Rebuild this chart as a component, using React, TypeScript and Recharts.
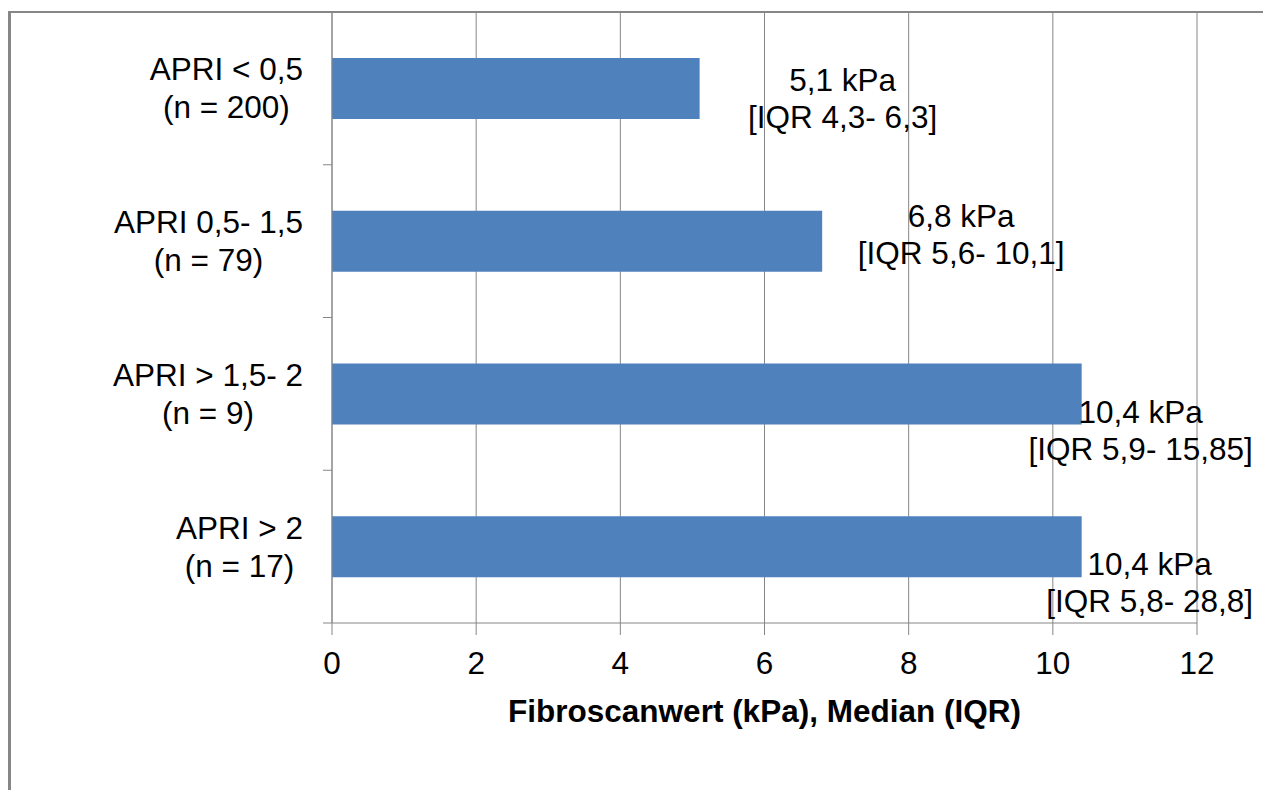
import { Bar, BarChart, CartesianGrid, LabelList, XAxis, YAxis } from 'recharts';

// APRI groups vs. Fibroscan stiffness (median with IQR)
const GROUPS = ['APRI < 0,5', 'APRI 0,5- 1,5', 'APRI > 1,5- 2', 'APRI > 2'];
const COUNTS = [200, 79, 9, 17];
const MEDIANS = [5.1, 6.8, 10.4, 10.4];
const IQR_LOW = [4.3, 5.6, 5.9, 5.8];
const IQR_HIGH = [6.3, 10.1, 15.85, 28.8];
const X_TICKS = [0, 2, 4, 6, 8, 10, 12];

// hand-placed value labels: centre offset from bar end, baseline offset from bar middle
const LABEL_DX = [143, 139, 59, 68];
const LABEL_DY = [2, -14, 29, 28];

const W = 1263;
const H = 790;
const MARGIN = { top: 12, right: 66, bottom: 0, left: 1 };
const X_AXIS_H = 167;
const BAND = (H - MARGIN.top - X_AXIS_H) / GROUPS.length;

const FONT = "'Liberation Sans', Arial, sans-serif";
const FONT_SIZE = 31.5;
const GRAY = '#868686';
const BLUE = '#4F81BD';

const ctx = document.createElement('canvas').getContext('2d');
const textWidth = (s: string) => {
  if (!ctx) return s.length * FONT_SIZE * 0.55;
  ctx.font = `${FONT_SIZE}px ${FONT}`;
  return ctx.measureText(s).width;
};

const comma = (v: number) => String(v).replace('.', ',');

const data = GROUPS.map((g, i) => ({
  name: g,
  n: COUNTS[i],
  median: MEDIANS[i],
  low: IQR_LOW[i],
  high: IQR_HIGH[i],
}));

function GroupTick(props: any) {
  const { x, y, payload, index } = props;
  const top = payload.value as string;
  const bottom = `(n = ${COUNTS[index]})`;
  const block = Math.max(textWidth(top), textWidth(bottom));
  const cx = x - 29 - block / 2;
  const yb = y + BAND / 2;
  return (
    <g>
      <line x1={x - 9} x2={x} y1={yb} y2={yb} stroke={GRAY} strokeWidth={1} />
      <text x={cx} y={y - 8} textAnchor="middle" fontFamily={FONT} fontSize={FONT_SIZE} fill="#000">
        {top}
      </text>
      <text x={cx} y={y + 30} textAnchor="middle" fontFamily={FONT} fontSize={FONT_SIZE} fill="#000">
        {bottom}
      </text>
    </g>
  );
}

function ValueLabel(props: any) {
  const { x, y, width, height, index } = props;
  const d = data[index];
  const cx = x + width + LABEL_DX[index];
  const base = y + height / 2 + LABEL_DY[index];
  return (
    <g>
      <text x={cx} y={base} textAnchor="middle" fontFamily={FONT} fontSize={FONT_SIZE} fill="#000">
        {`${comma(d.median)} kPa`}
      </text>
      <text x={cx} y={base + 37} textAnchor="middle" fontFamily={FONT} fontSize={FONT_SIZE} fill="#000">
        {`[IQR ${comma(d.low)}- ${comma(d.high)}]`}
      </text>
    </g>
  );
}

export default function App() {
  return (
    <div style={{ position: 'absolute', left: 0, top: 0, width: W, height: H, background: '#fff' }}>
      <div
        style={{
          position: 'absolute',
          left: 8,
          top: 11,
          right: 0,
          bottom: 0,
          borderTop: `2px solid ${GRAY}`,
          borderLeft: `3px solid ${GRAY}`,
        }}
      />
      <div style={{ position: 'absolute', left: 0, top: 0 }}>
        <BarChart width={W} height={H} data={data} layout="vertical" margin={MARGIN}>
          <CartesianGrid horizontal={false} stroke={GRAY} strokeWidth={1} />
          <XAxis
            type="number"
            domain={[0, 12]}
            ticks={X_TICKS}
            interval={0}
            height={X_AXIS_H}
            tickSize={12}
            tickMargin={17}
            axisLine={{ stroke: GRAY }}
            tickLine={{ stroke: GRAY }}
            tick={{ fontFamily: FONT, fontSize: FONT_SIZE, fill: '#000' }}
            label={{
              value: 'Fibroscanwert (kPa), Median (IQR)',
              position: 'insideBottom',
              offset: 68,
              style: { fontFamily: FONT, fontSize: FONT_SIZE, fontWeight: 'bold', fill: '#000' },
            }}
          />
          <YAxis
            type="category"
            dataKey="name"
            width={331}
            tickSize={0}
            tickMargin={0}
            tickLine={false}
            axisLine={{ stroke: GRAY }}
            tick={<GroupTick />}
            interval={0}
          />
          <Bar dataKey="median" fill={BLUE} barSize={61} isAnimationActive={false}>
            <LabelList dataKey="median" content={<ValueLabel />} />
          </Bar>
        </BarChart>
      </div>
    </div>
  );
}
